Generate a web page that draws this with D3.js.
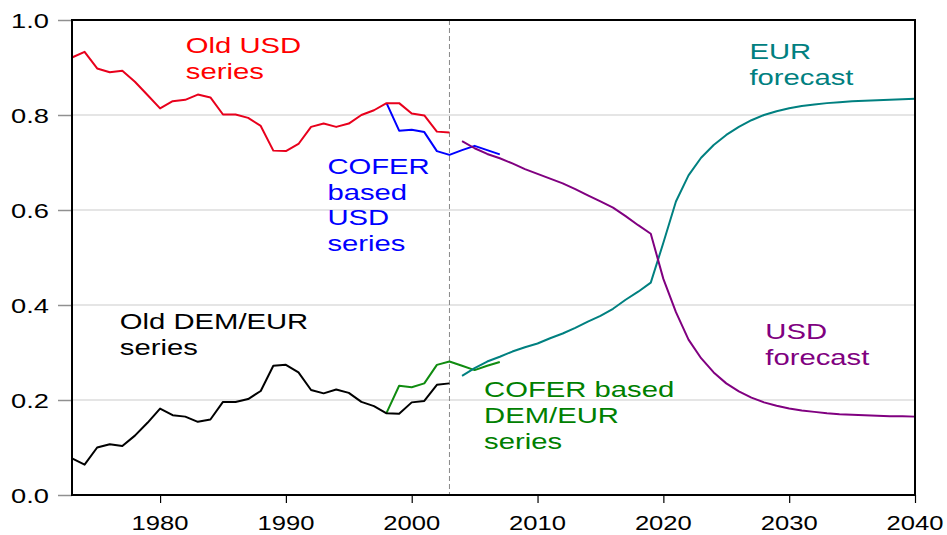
<!DOCTYPE html>
<html>
<head>
<meta charset="utf-8">
<script src="https://cdn.jsdelivr.net/npm/d3@7"></script>
<style>
  html, body { margin: 0; padding: 0; background: #fff; }
  svg { display: block; font-family: Arial, "Liberation Sans", sans-serif; }
</style>
</head>
<body>
<svg id="chart" width="947" height="535"></svg>
<script>
// ---------- data ----------
const oldYears = d3.range(1973, 2004);          // 1973..2003
const oldUSD = [0.921,0.933,0.898,0.890,0.893,0.870,0.842,0.814,0.829,0.832,0.843,0.837,0.801,0.801,0.794,0.777,
                0.725,0.724,0.739,0.775,0.782,0.775,0.782,0.800,0.810,0.825,0.825,0.803,0.799,0.765,0.763];
const oldDEM = [0.077,0.064,0.100,0.107,0.103,0.125,0.152,0.182,0.168,0.165,0.154,0.159,0.196,0.196,0.202,0.219,
                0.272,0.274,0.258,0.221,0.214,0.222,0.215,0.196,0.187,0.172,0.171,0.195,0.198,0.232,0.235];

const coferYears = d3.range(1998, 2008);        // 1998..2007
const coferUSD = [0.825,0.767,0.769,0.764,0.724,0.716,0.726,0.735,0.726,0.717];
const coferDEM = [0.173,0.230,0.227,0.235,0.274,0.281,0.272,0.263,0.272,0.280];

const fcYears = d3.range(2004, 2041);           // 2004..2040
const usdForecast = [0.745,0.730,0.718,0.709,0.698,0.686,0.676,0.666,0.656,0.644,0.631,0.618,0.605,0.587,0.568,0.550,
                     0.455,0.385,0.327,0.288,0.258,0.235,0.218,0.205,0.195,0.188,0.182,0.178,0.175,0.172,0.170,0.169,
                     0.168,0.167,0.166,0.166,0.165];
const eurForecast = [0.251,0.267,0.281,0.291,0.302,0.311,0.319,0.330,0.340,0.352,0.365,0.377,0.392,0.411,0.428,0.447,
                     0.531,0.618,0.673,0.710,0.737,0.758,0.775,0.789,0.800,0.808,0.814,0.819,0.822,0.825,0.827,0.829,
                     0.830,0.831,0.832,0.833,0.834];

const xTicks = [1980, 1990, 2000, 2010, 2020, 2030, 2040];
const yTicks = [0.0, 0.2, 0.4, 0.6, 0.8, 1.0];
const splitYear = 2003;

const labels = [
  {lines: ["Old USD", "series"], year: 1982.05, value: 0.931, color: "#ff0000"},
  {lines: ["COFER", "based", "USD", "series"], year: 1993.3, value: 0.676, color: "#0000ff"},
  {lines: ["Old DEM/EUR", "series"], year: 1976.8, value: 0.349, color: "#000000"},
  {lines: ["COFER based", "DEM/EUR", "series"], year: 2005.75, value: 0.206, color: "#008000"},
  {lines: ["EUR", "forecast"], year: 2026.84, value: 0.917, color: "#008080"},
  {lines: ["USD", "forecast"], year: 2028.1, value: 0.328, color: "#800080"}
];

// ---------- layout ----------
const svg = d3.select("#chart");
const M = {left: 72, right: 915, top: 20, bottom: 495};
const x = d3.scaleLinear().domain([1973, 2040]).range([M.left, M.right]);
const y = d3.scaleLinear().domain([0, 1]).range([M.bottom, M.top]);
const STRETCH = 1.36;

// grid lines
svg.append("g").selectAll("line").data(yTicks.filter(v => v > 0 && v < 1)).join("line")
  .attr("x1", M.left).attr("x2", M.right)
  .attr("y1", d => y(d)).attr("y2", d => y(d))
  .attr("stroke", "#dcdcdc").attr("stroke-width", 1.5);

// y axis ticks (gray, outward)
const yAxis = svg.append("g").attr("transform", `translate(${M.left},0)`)
  .call(d3.axisLeft(y).tickValues(yTicks).tickSize(14).tickFormat(""));
yAxis.select(".domain").remove();
yAxis.selectAll(".tick line").attr("stroke", "#909090").attr("stroke-width", 1.5);

// y labels
svg.append("g").selectAll("g").data(yTicks).join("g")
  .attr("transform", d => `translate(49,${y(d)}) scale(1.3,1)`)
  .append("text")
  .attr("text-anchor", "end").attr("dy", "0.36em")
  .attr("font-size", 21).attr("fill", "#000")
  .text(d => d3.format(".1f")(d));

// x axis ticks
const xAxis = svg.append("g").attr("transform", `translate(0,${M.bottom})`)
  .call(d3.axisBottom(x).tickValues(xTicks).tickSize(8).tickFormat(""));
xAxis.select(".domain").remove();
xAxis.selectAll(".tick line").attr("stroke", "#000").attr("stroke-width", 1.2);

svg.append("g").selectAll("g").data(xTicks).join("g")
  .attr("transform", d => `translate(${x(d)},530) scale(1.22,1)`)
  .append("text")
  .attr("text-anchor", "middle")
  .attr("font-size", 21).attr("fill", "#000")
  .text(d => d);

// dashed split line
svg.append("line")
  .attr("x1", x(splitYear)).attr("x2", x(splitYear))
  .attr("y1", M.top).attr("y2", M.bottom)
  .attr("stroke", "#888").attr("stroke-width", 1).attr("stroke-dasharray", "5,3");

// series
const line = d3.line().x(d => x(d[0])).y(d => y(d[1]));
function drawSeries(years, vals, color) {
  svg.append("path")
    .datum(years.map((yr, i) => [yr, vals[i]]))
    .attr("d", line)
    .attr("fill", "none")
    .attr("stroke", color)
    .attr("stroke-width", 2)
    .attr("stroke-linejoin", "round");
}
drawSeries(coferYears, coferUSD, "#0000ff");
drawSeries(coferYears, coferDEM, "#108c10");
drawSeries(oldYears, oldUSD, "#e8001c");
drawSeries(oldYears, oldDEM, "#000000");
drawSeries(fcYears, eurForecast, "#008080");
drawSeries(fcYears, usdForecast, "#800080");

// frame
svg.append("rect")
  .attr("x", M.left).attr("y", M.top)
  .attr("width", M.right - M.left).attr("height", M.bottom - M.top)
  .attr("fill", "none").attr("stroke", "#000").attr("stroke-width", 2);

// labels
labels.forEach(lb => {
  const g = svg.append("g")
    .attr("transform", `translate(${x(lb.year)},${y(lb.value)}) scale(${STRETCH},1)`);
  const t = g.append("text").attr("font-size", 21.5).attr("fill", lb.color);
  lb.lines.forEach((s, i) => {
    t.append("tspan").attr("x", 0).attr("y", i * 25.8).text(s);
  });
});
</script>
</body>
</html>
